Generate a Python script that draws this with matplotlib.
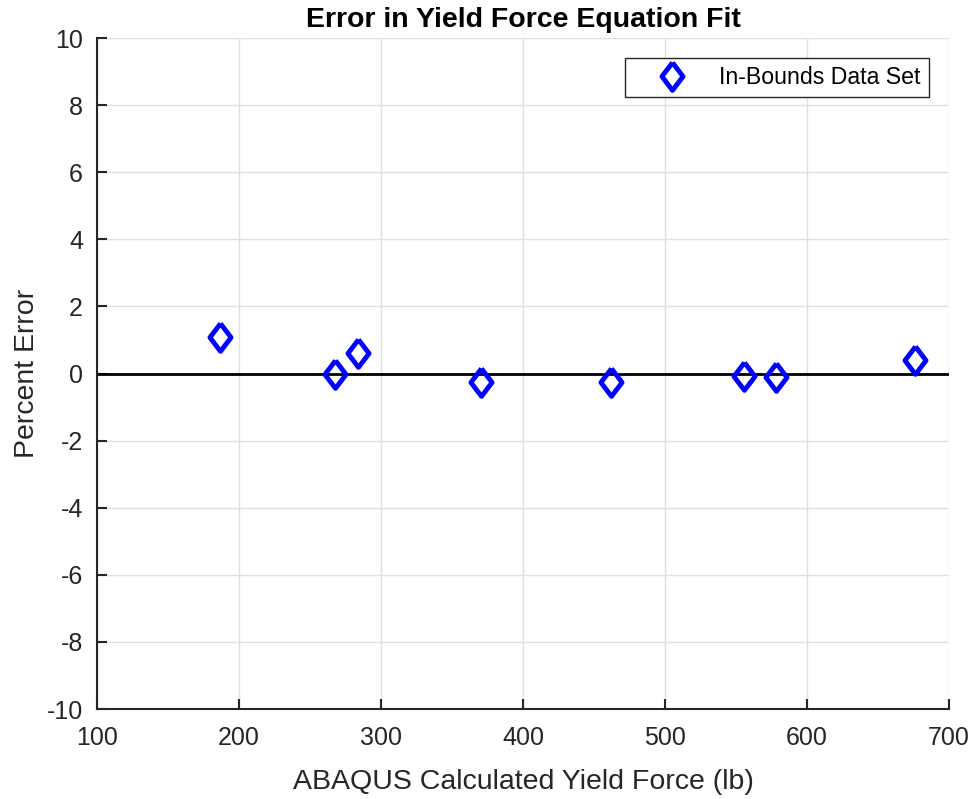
import matplotlib
matplotlib.use("Agg")
import matplotlib.pyplot as plt

# ABAQUS yield force (lb) and percent error of the fitted equation
yield_force = [186.6, 267.6, 283.6, 370.4, 462.0, 555.6, 578.2, 676.0]
percent_error = [1.10, 0.00, 0.60, -0.26, -0.26, -0.07, -0.10, 0.40]

x_ticks = [100, 200, 300, 400, 500, 600, 700]
y_ticks = [-10, -8, -6, -4, -2, 0, 2, 4, 6, 8, 10]

plt.rcParams['font.family'] = ['Liberation Sans', 'DejaVu Sans']
plt.rcParams['axes.unicode_minus'] = False

# diamond slightly wider than matplotlib's thin diamond
diamond = [(0, 1), (0.76, 0), (0, -1), (-0.76, 0), (0, 1)]

fig = plt.figure(figsize=(9.76, 7.99), dpi=100)
ax = fig.add_axes([97 / 976, 1 - 709 / 799, (949 - 97) / 976, (709 - 38) / 799])

ax.axhline(0, color='black', lw=2, zorder=2)
ax.plot(yield_force, percent_error, linestyle='none', marker=diamond,
        markersize=20, markerfacecolor='none', markeredgecolor='#0000ff',
        markeredgewidth=3.5, label='In-Bounds Data Set', zorder=3)

ax.set_xlim(100, 700)
ax.set_ylim(-10, 10)
ax.set_xticks(x_ticks)
ax.set_yticks(y_ticks)
ax.grid(True, color='#e0e0e0', lw=1)
ax.set_axisbelow(True)

for side in ('top', 'right'):
    ax.spines[side].set_visible(False)
for side in ('left', 'bottom'):
    ax.spines[side].set_color('#262626')
    ax.spines[side].set_linewidth(1.5)

ax.tick_params(direction='in', length=7, width=1.5, colors='#262626',
               labelsize=18)
ax.tick_params(axis='y', pad=10)
ax.tick_params(axis='x', pad=12)

ax.set_xlabel('ABAQUS Calculated Yield Force (lb)', fontsize=20.5, color='#262626', labelpad=14)
ax.set_ylabel('Percent Error', fontsize=20.5, color='#262626', labelpad=5)
ax.set_title('Error in Yield Force Equation Fit', fontsize=20.5, fontweight='bold', pad=8)

leg = ax.legend(loc='upper right', bbox_to_anchor=(0.9765, 0.970), fontsize=16.7,
                fancybox=False, framealpha=1, edgecolor='#262626',
                borderpad=0.35, handletextpad=0.4, handlelength=3.3,
                borderaxespad=0)
leg.get_frame().set_linewidth(1)

fig.savefig('out.png', dpi=100)
